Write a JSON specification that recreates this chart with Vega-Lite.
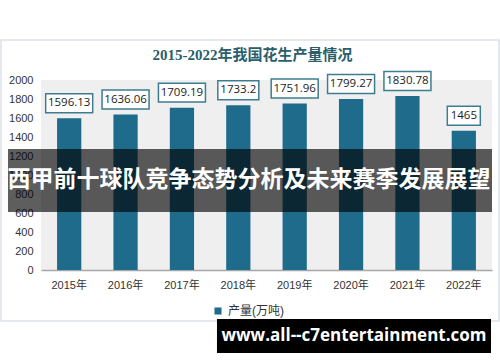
{
  "$schema": "https://vega.github.io/schema/vega-lite/v6.json",
  "autosize": "none",
  "width": 451,
  "height": 190,
  "padding": {"left": 41, "top": 80, "right": 8, "bottom": 92},
  "background": "white",
  "config": {
    "view": {"fill": "#efefef", "stroke": null},
    "font": "Liberation Sans"
  },
  "title": {
    "text": "2015-2022年我国花生产量情况",
    "font": "Liberation Serif, Noto Sans CJK SC",
    "fontSize": 15,
    "fontWeight": "bold",
    "color": "#2b5e6b",
    "anchor": "middle",
    "frame": "group",
    "baseline": "alphabetic",
    "offset": -36,
    "dx": -14
  },
  "resolve": {"scale": {"x": "independent", "y": "independent"}, "axis": {"x": "independent", "y": "independent"}},
  "layer": [
    {
      "data": {
        "values": [
          {"year": "2015年", "value": 1596.13},
          {"year": "2016年", "value": 1636.06},
          {"year": "2017年", "value": 1709.19},
          {"year": "2018年", "value": 1733.2},
          {"year": "2019年", "value": 1751.96},
          {"year": "2020年", "value": 1799.27},
          {"year": "2021年", "value": 1830.78},
          {"year": "2022年", "value": 1465}
        ]
      },
      "encoding": {
        "x": {
          "field": "year", "type": "nominal", "sort": null,
          "scale": {"paddingInner": 0.57, "paddingOuter": 0.285},
          "axis": {
            "title": null, "labelAngle": 0, "ticks": false,
            "domainColor": "#a6a6a6", "domainWidth": 1.5,
            "labelFont": "Liberation Sans, Noto Sans CJK SC", "labelFontSize": 11,
            "labelColor": "#333333", "labelPadding": 9
          }
        },
        "y": {
          "field": "value", "type": "quantitative",
          "scale": {"domain": [0, 2000], "nice": false},
          "axis": {
            "title": null, "grid": false, "domain": false, "ticks": false, "format": "d",
            "values": [0, 200, 400, 600, 800, 1000, 1200, 1400, 1600, 1800, 2000],
            "labelOverlap": false,
            "labelFontSize": 11, "labelColor": "#333333", "labelPadding": 8
          }
        }
      },
      "layer": [
        {
          "mark": {"type": "bar"},
          "encoding": {
            "color": {
              "datum": "产量(万吨)", "type": "nominal",
              "scale": {"range": ["#1f6b8b"]},
              "legend": {
                "title": null, "orient": "none", "legendX": 171, "legendY": 225,
                "symbolType": "square", "symbolSize": 50, "labelFontSize": 12,
                "labelFont": "Liberation Sans, Noto Sans CJK SC", "labelColor": "#333333",
                "padding": 0, "labelOffset": 4
              }
            }
          }
        },
        {
          "mark": {"type": "point", "filled": true, "fill": "white", "stroke": "#3e7d8f", "strokeWidth": 1.5, "opacity": 1, "yOffset": -15},
          "encoding": {
            "shape": {
              "condition": [
                {"test": "datum.value == 1465", "value": "M-1,-0.576H1V0.576H-1Z"},
                {"test": "datum.value == 1733.2", "value": "M-1,-0.463H1V0.463H-1Z"}
              ],
              "value": "M-1,-0.404H1V0.404H-1Z"
            },
            "size": {
              "condition": [
                {"test": "datum.value == 1465", "value": 1089},
                {"test": "datum.value == 1733.2", "value": 1681}
              ],
              "value": 2209
            }
          }
        },
        {
          "mark": {"type": "text", "yOffset": -15, "baseline": "middle", "fontSize": 11.5, "font": "Open Sans", "color": "#222222"},
          "encoding": {
            "text": {"field": "value", "type": "quantitative", "format": ".6~g"}
          }
        }
      ]
    },
    {
      "data": {"values": [{}]},
      "encoding": {
        "x": {"type": "quantitative", "scale": {"domain": [0, 1], "nice": false, "zero": false}, "axis": null},
        "y": {"type": "quantitative", "scale": {"domain": [0, 1], "nice": false, "zero": false}, "axis": null}
      },
      "layer": [
        {
          "mark": {"type": "rect", "fill": null, "stroke": "#dde2e8", "strokeWidth": 1.5},
          "encoding": {
            "x": {"datum": -0.0887, "type": "quantitative", "scale": {"domain": [0, 1], "nice": false, "zero": false}, "axis": null},
            "x2": {"datum": 1.0155},
            "y": {"datum": 1.2105, "type": "quantitative", "scale": {"domain": [0, 1], "nice": false, "zero": false}, "axis": null},
            "y2": {"datum": -0.2684}
          }
        },
        {
          "mark": {"type": "rect", "color": "black", "opacity": 0.63},
          "encoding": {
            "x": {"datum": -0.0732, "type": "quantitative"},
            "x2": {"datum": 1},
            "y": {"datum": 0.6368, "type": "quantitative"},
            "y2": {"datum": 0.3053}
          }
        },
        {
          "mark": {"type": "text", "text": "西甲前十球队竞争态势分析及未来赛季发展展望", "font": "Noto Sans CJK SC", "fontWeight": "bold", "fontSize": 23, "color": "white", "baseline": "middle", "align": "center"},
          "encoding": {
            "x": {"datum": 0.4612, "type": "quantitative"},
            "y": {"datum": 0.4711, "type": "quantitative"}
          }
        },
        {
          "mark": {"type": "rect", "color": "black", "opacity": 1},
          "encoding": {
            "x": {"datum": 0.3902, "type": "quantitative"},
            "x2": {"datum": 0.9978},
            "y": {"datum": -0.2579, "type": "quantitative"},
            "y2": {"datum": -0.4368}
          }
        },
        {
          "mark": {"type": "text", "text": "www.all--c7entertainment.com", "font": "Open Sans", "fontWeight": "bold", "fontSize": 17, "color": "white", "baseline": "middle", "align": "center"},
          "encoding": {
            "x": {"datum": 0.694, "type": "quantitative"},
            "y": {"datum": -0.3474, "type": "quantitative"}
          }
        }
      ]
    }
  ]
}
